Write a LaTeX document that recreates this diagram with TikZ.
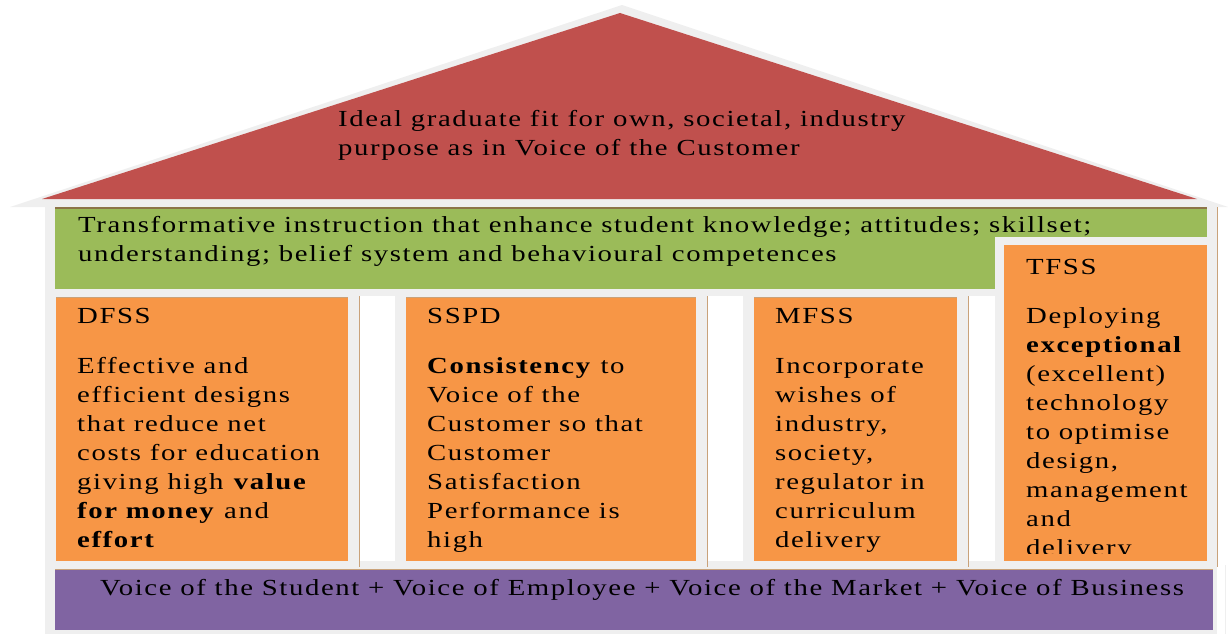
\documentclass[tikz,border=0pt]{standalone}
\usepackage{fontspec}
\setmainfont{Liberation Serif}[FakeStretch=1.25,LetterSpace=7]
\definecolor{roofred}{HTML}{C0504D}
\definecolor{beamgreen}{HTML}{9BBB59}
\definecolor{pillarorange}{HTML}{F79646}
\definecolor{basepurple}{HTML}{8064A2}
\definecolor{framegray}{HTML}{EFEFEF}
\definecolor{rimbrown}{HTML}{8C7448}
\definecolor{rimtan}{HTML}{C9A27A}
\tikzset{
  housetext/.style={inner sep=0pt, anchor=base west, align=left,
    font=\fontsize{23}{29}\selectfont},
  grayframe/.style={fill=framegray},
  rimline/.style={rimbrown, line width=1.5pt},
  shadeline/.style={rimtan, line width=1pt}
}

\begin{document}
\begin{tikzpicture}[x=1pt,y=-1pt]
    \useasboundingbox (0,0) rectangle (1228,634);
    \fill[grayframe] (10,207) -- (622,5) -- (1228,207) -- cycle;
    \fill[roofred] (42,199) -- (620,13) -- (1197,199) -- cycle;
    \fill[grayframe] (45,207) rectangle (1217,296);
    \fill[grayframe] (45,290) rectangle (359,567);
    \fill[grayframe] (395,290) rectangle (707,567);
    \fill[grayframe] (743,290) rectangle (968,567);
    \fill[grayframe] (45,561) rectangle (1217,634);
    \fill[beamgreen] (55,209) rectangle (1207,289);
    \draw[rimline] (55,208) -- (1207,208);
    \fill[grayframe] (995,237) rectangle (1217,567);
    \fill[pillarorange] (56,297) rectangle (348,561);
    \fill[pillarorange] (406,297) rectangle (696,561);
    \fill[pillarorange] (754,297) rectangle (957,561);
    \fill[pillarorange] (1004,245) rectangle (1207,561);
    \fill[basepurple] (55,570) rectangle (1213,630);
    \draw[shadeline] (56,297) -- (348,297);
    \draw[shadeline] (406,297) -- (696,297);
    \draw[shadeline] (754,297) -- (957,297);
    \draw[shadeline] (359,296) -- (359,567);
    \draw[shadeline] (707,296) -- (707,567);
    \draw[shadeline] (968,296) -- (968,567);
    \draw[shadeline] (1217,207) -- (1217,567);
    \draw[shadeline] (55,569) -- (1213,569);
    \draw[framegray, line width=1pt] (1225,565) -- (1225,634);
    \node[housetext] (ideal) at (338,155)
      {Ideal graduate fit for own, societal, industry\\purpose as in Voice of the Customer};
    \node[housetext] (transform) at (78,261)
      {Transformative instruction that enhance student knowledge; attitudes; skillset;\\understanding; belief system and behavioural competences};
    \node[housetext] (dfss) at (77,547)
      {DFSS\\[21pt]Effective and\\efficient designs\\that reduce net\\costs for education\\giving high \textbf{value}\\\textbf{for money} and\\\textbf{effort}};
    \node[housetext] (sspd) at (427,547)
      {SSPD\\[21pt]\textbf{Consistency} to\\Voice of the\\Customer so that\\Customer\\Satisfaction\\Performance is\\high};
    \node[housetext] (mfss) at (775,547)
      {MFSS\\[21pt]Incorporate\\wishes of\\industry,\\society,\\regulator in\\curriculum\\delivery};
    \begin{scope}
      \clip (1004,245) rectangle (1207,553);
      \node[housetext] (tfss) at (1026,555)
        {TFSS\\[20pt]Deploying\\\textbf{exceptional}\\(excellent)\\technology\\to optimise\\design,\\management\\and\\delivery};
    \end{scope}
    \node[housetext] (voices) at (100,595)
      {Voice of the Student + Voice of Employee + Voice of the Market + Voice of Business};
\end{tikzpicture}
\end{document}
